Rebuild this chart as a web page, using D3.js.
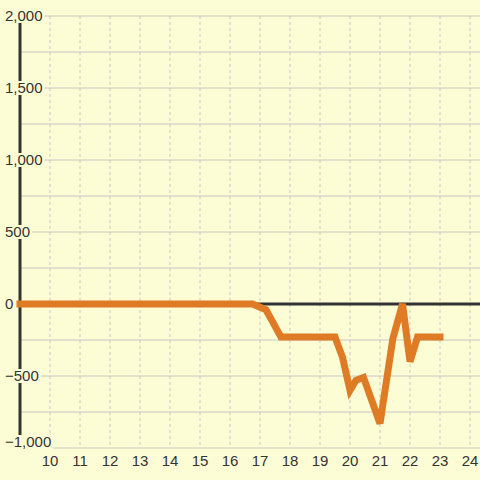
<!DOCTYPE html>
<html>
<head>
  <meta charset="utf-8">
  <title>Line chart</title>
  <script src="https://d3js.org/d3.v7.min.js"></script>
  <style>
    body { margin: 0; background: #fdfdd5; }
    svg { display: block; background: #fdfdd5; }
    text { font-family: "Liberation Sans", Arial, sans-serif; font-size: 15px; fill: #333; }
    .grid-h line { stroke: #c6c6c6; stroke-width: 1; }
    .grid-v line { stroke: #c6c6c6; stroke-width: 1; stroke-dasharray: 3,3; }
    .line { fill: none; stroke: #df7b25; stroke-width: 7px; stroke-linecap: square; }
  </style>
</head>
<body>
  <script>
    // data
    var times  = [9, 16.75, 17.2, 17.7, 19.5, 19.75, 20, 20.2, 20.45, 21, 21.43, 21.75, 22, 22.25, 23];
    var values = [0, 0, -40, -230, -230, -370, -600, -530, -510, -830, -240, 0, -400, -230, -230];
    var xTicks = [10, 11, 12, 13, 14, 15, 16, 17, 18, 19, 20, 21, 22, 23, 24];
    var yTicks = [-1000, -750, -500, -250, 0, 250, 500, 750, 1000, 1250, 1500, 1750, 2000];
    var yLabels = [-1000, -500, 0, 500, 1000, 1500, 2000];

    var width = 480, height = 480;

    var x = d3.scaleLinear().domain([9, 24]).range([20, 470]);
    var y = d3.scaleLinear().domain([-1000, 2000]).range([448, 16]);

    var data = times.map(function(t, i) { return {t: t, v: values[i]}; });

    var svg = d3.select("body").append("svg")
        .attr("width", width)
        .attr("height", height);

    // horizontal grid
    svg.append("g").attr("class", "grid-h")
      .selectAll("line")
      .data(yTicks)
      .enter().append("line")
        .attr("x1", function(d) { return d === -1000 ? x(10) : x(9); })
        .attr("x2", width)
        .attr("y1", function(d) { return y(d); })
        .attr("y2", function(d) { return y(d); });

    // vertical dashed grid
    svg.append("g").attr("class", "grid-v")
      .selectAll("line")
      .data(xTicks)
      .enter().append("line")
        .attr("x1", function(d) { return x(d); })
        .attr("x2", function(d) { return x(d); })
        .attr("y1", y(2000))
        .attr("y2", y(-1000));

    // y axis line
    svg.append("line")
        .attr("x1", x(9)).attr("x2", x(9))
        .attr("y1", y(2000)).attr("y2", y(-1000))
        .attr("stroke", "#333")
        .attr("stroke-width", 3);

    // zero line
    svg.append("line")
        .attr("x1", x(9)).attr("x2", width)
        .attr("y1", y(0)).attr("y2", y(0))
        .attr("stroke", "#333")
        .attr("stroke-width", 3);

    // y labels with background boxes
    var fmt = d3.format(",");
    var yl = svg.append("g").selectAll("g")
      .data(yLabels)
      .enter().append("g")
        .attr("transform", function(d) {
          var yy = d === -1000 ? y(d) - 6 : y(d);
          return "translate(5," + yy + ")";
        });
    yl.append("text")
        .attr("dy", "0.35em")
        .text(function(d) { return fmt(d); })
        .each(function() {
          var b = this.getBBox();
          d3.select(this.parentNode).insert("rect", "text")
            .attr("x", b.x - 2)
            .attr("y", -7)
            .attr("width", b.width + 4)
            .attr("height", 14)
            .attr("fill", "#fdfdd5");
        });

    // x labels
    svg.append("g").selectAll("text")
      .data(xTicks)
      .enter().append("text")
        .attr("x", function(d) { return x(d); })
        .attr("y", 466)
        .attr("text-anchor", "middle")
        .text(function(d) { return d; });

    var line = d3.line()
        .x(function(d) { return x(d.t); })
        .y(function(d) { return y(d.v); });

    svg.append("path")
        .datum(data)
        .attr("class", "line")
        .attr("d", line);
  </script>
</body>
</html>
